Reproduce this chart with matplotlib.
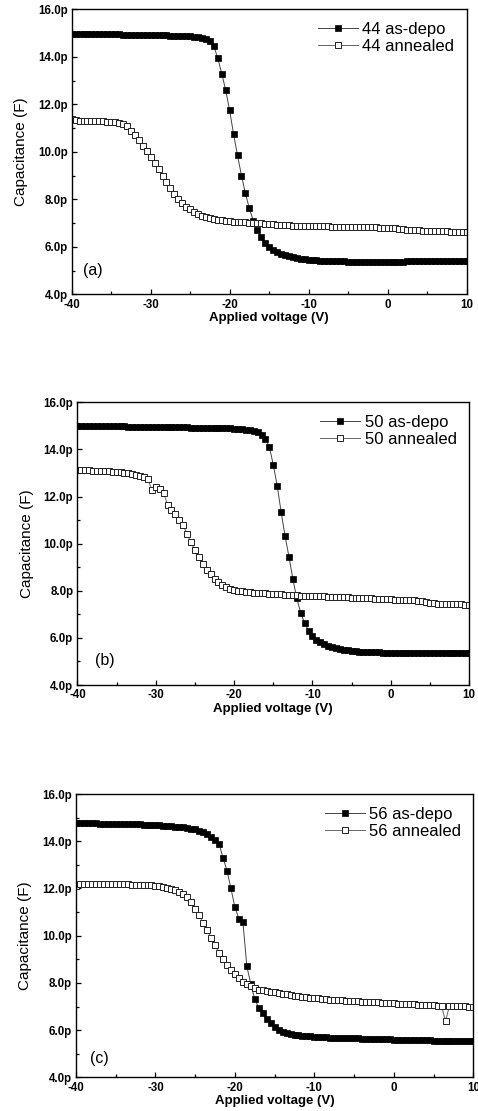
import numpy as np
from matplotlib import pyplot
from matplotlib.ticker import MultipleLocator, FuncFormatter

pyplot.rcParams["font.family"] = ["Liberation Sans", "DejaVu Sans"]

# gate voltage sweep, 0.5 V steps
voltage = np.arange(-40, 10.5, 0.5)

# capacitance in pF, one value per voltage step
cap_44_depo = [
    14.97, 14.97, 14.97, 14.97, 14.96, 14.96, 14.96, 14.96, 14.96, 14.95,
    14.95, 14.95, 14.95, 14.94, 14.94, 14.94, 14.94, 14.93, 14.93, 14.93,
    14.92, 14.92, 14.92, 14.91, 14.91, 14.90, 14.90, 14.89, 14.89, 14.88,
    14.87, 14.86, 14.84, 14.81, 14.76, 14.66, 14.45, 13.95, 13.30, 12.60,
    11.75, 10.75, 9.85, 9.00, 8.25, 7.62, 7.10, 6.70, 6.40, 6.17,
    5.98, 5.87, 5.79, 5.72, 5.66, 5.61, 5.57, 5.54, 5.51, 5.48,
    5.46, 5.44, 5.43, 5.42, 5.41, 5.40, 5.40, 5.39, 5.39, 5.39,
    5.38, 5.38, 5.38, 5.38, 5.38, 5.38, 5.38, 5.38, 5.38, 5.38,
    5.38, 5.38, 5.38, 5.38, 5.38, 5.39, 5.39, 5.39, 5.39, 5.39,
    5.39, 5.39, 5.39, 5.39, 5.39, 5.40, 5.40, 5.40, 5.40, 5.40, 5.40,
]
cap_44_ann = [
    11.40, 11.33, 11.32, 11.32, 11.31, 11.31, 11.30, 11.30, 11.29, 11.28,
    11.27, 11.25, 11.22, 11.17, 11.08, 10.90, 10.72, 10.50, 10.27, 10.03,
    9.78, 9.52, 9.27, 9.00, 8.73, 8.47, 8.22, 8.03, 7.85, 7.70,
    7.58, 7.46, 7.37, 7.30, 7.25, 7.21, 7.18, 7.15, 7.12, 7.10,
    7.08, 7.07, 7.05, 7.04, 7.03, 7.02, 7.01, 7.00, 6.99, 6.98,
    6.96, 6.95, 6.94, 6.93, 6.92, 6.91, 6.90, 6.90, 6.89, 6.88,
    6.88, 6.87, 6.87, 6.86, 6.86, 6.86, 6.85, 6.85, 6.85, 6.84,
    6.84, 6.84, 6.83, 6.83, 6.83, 6.82, 6.82, 6.82, 6.81, 6.81,
    6.80, 6.79, 6.78, 6.76, 6.75, 6.73, 6.72, 6.71, 6.70, 6.69,
    6.68, 6.67, 6.66, 6.66, 6.65, 6.65, 6.64, 6.64, 6.63, 6.63, 6.62,
]
cap_50_depo = [
    14.99, 14.99, 14.99, 14.99, 14.99, 14.99, 14.99, 14.98, 14.98, 14.98,
    14.98, 14.98, 14.98, 14.97, 14.97, 14.97, 14.97, 14.97, 14.96, 14.96,
    14.96, 14.96, 14.95, 14.95, 14.95, 14.95, 14.94, 14.94, 14.94, 14.93,
    14.93, 14.93, 14.92, 14.92, 14.92, 14.91, 14.91, 14.90, 14.90, 14.89,
    14.88, 14.87, 14.86, 14.84, 14.82, 14.78, 14.72, 14.62, 14.45, 14.10,
    13.35, 12.45, 11.35, 10.32, 9.45, 8.50, 7.68, 7.06, 6.63, 6.31,
    6.07, 5.93, 5.83, 5.74, 5.67, 5.61, 5.56, 5.52, 5.49, 5.47,
    5.45, 5.43, 5.42, 5.41, 5.40, 5.40, 5.39, 5.39, 5.38, 5.38,
    5.38, 5.38, 5.38, 5.38, 5.38, 5.38, 5.38, 5.38, 5.38, 5.38,
    5.38, 5.38, 5.38, 5.38, 5.38, 5.38, 5.38, 5.38, 5.38, 5.38, 5.38,
]
cap_50_ann = [
    13.12, 13.14, 13.13, 13.12, 13.10, 13.09, 13.08, 13.07, 13.07, 13.06,
    13.05, 13.04, 13.02, 13.00, 12.97, 12.93, 12.88, 12.83, 12.74, 12.26,
    12.40, 12.33, 12.16, 11.65, 11.44, 11.24, 11.02, 10.78, 10.40, 10.05,
    9.72, 9.42, 9.13, 8.90, 8.70, 8.52, 8.38, 8.26, 8.16, 8.08,
    8.03, 8.00, 7.97, 7.95, 7.93, 7.92, 7.91, 7.90, 7.89, 7.88,
    7.87, 7.86, 7.85, 7.84, 7.83, 7.82, 7.81, 7.80, 7.79, 7.79,
    7.78, 7.77, 7.76, 7.76, 7.75, 7.74, 7.73, 7.73, 7.72, 7.72,
    7.71, 7.70, 7.70, 7.69, 7.68, 7.68, 7.67, 7.66, 7.66, 7.65,
    7.64, 7.63, 7.63, 7.62, 7.61, 7.60, 7.59, 7.58, 7.57, 7.52,
    7.49, 7.47, 7.46, 7.45, 7.44, 7.44, 7.43, 7.42, 7.42, 7.41, 7.40,
]
cap_56_depo = [
    14.78, 14.77, 14.77, 14.76, 14.76, 14.76, 14.75, 14.75, 14.75, 14.74,
    14.74, 14.73, 14.73, 14.72, 14.72, 14.71, 14.71, 14.70, 14.70, 14.69,
    14.68, 14.67, 14.66, 14.65, 14.64, 14.62, 14.61, 14.59, 14.57, 14.54,
    14.50, 14.45, 14.38, 14.30, 14.20, 14.07, 13.90, 13.30, 12.75, 12.00,
    11.20, 10.72, 10.60, 8.70, 7.95, 7.30, 6.95, 6.72, 6.48, 6.30,
    6.13, 6.02, 5.94, 5.88, 5.84, 5.81, 5.78, 5.76, 5.74, 5.73,
    5.72, 5.71, 5.70, 5.69, 5.68, 5.68, 5.67, 5.67, 5.66, 5.66,
    5.65, 5.65, 5.64, 5.64, 5.63, 5.63, 5.62, 5.62, 5.61, 5.61,
    5.60, 5.60, 5.59, 5.59, 5.58, 5.58, 5.58, 5.57, 5.57, 5.57,
    5.56, 5.56, 5.56, 5.55, 5.55, 5.55, 5.55, 5.54, 5.54, 5.54, 5.54,
]
cap_56_ann = [
    12.10, 12.19, 12.19, 12.19, 12.19, 12.18, 12.18, 12.18, 12.18, 12.18,
    12.17, 12.17, 12.17, 12.17, 12.16, 12.16, 12.16, 12.15, 12.15, 12.14,
    12.12, 12.10, 12.07, 12.03, 11.98, 11.92, 11.85, 11.75, 11.62, 11.44,
    11.15, 10.86, 10.55, 10.23, 9.92, 9.60, 9.28, 9.00, 8.76, 8.55,
    8.38, 8.20, 8.05, 7.94, 7.85, 7.78, 7.72, 7.68, 7.65, 7.62,
    7.60, 7.57, 7.54, 7.51, 7.49, 7.46, 7.44, 7.42, 7.39, 7.37,
    7.35, 7.34, 7.32, 7.31, 7.29, 7.28, 7.27, 7.26, 7.25, 7.24,
    7.23, 7.22, 7.21, 7.20, 7.19, 7.18, 7.17, 7.16, 7.15, 7.14,
    7.13, 7.12, 7.11, 7.10, 7.10, 7.09, 7.08, 7.07, 7.06, 7.06,
    7.05, 7.04, 7.04, 6.38, 7.03, 7.02, 7.02, 7.01, 7.01, 7.00, 7.00,
]

samples = ["44", "50", "56"]
tags = ["(a)", "(b)", "(c)"]

# axes rectangles in figure fractions
rects = [
    [0.150, 0.735, 0.826, 0.2565],
    [0.162, 0.3834, 0.8195, 0.2545],
    [0.159, 0.0303, 0.8312, 0.255],
]
tag_pos = [(0.029, 0.085), (0.045, 0.088), (0.035, 0.068)]


def plot_panel(ax, depo, ann, sample, tag, tag_xy):
    ax.plot(voltage, depo, "-s", color="#444444", lw=0.7, ms=4.4,
            mfc="black", mec="black", mew=0.5, label=f"{sample} as-depo")
    ax.plot(voltage, ann, "-s", color="#666666", lw=0.7, ms=4.2,
            mfc="white", mec="#222222", mew=0.7, label=f"{sample} annealed")
    ax.set_xlim(-40, 10)
    ax.set_ylim(4, 16)
    ax.xaxis.set_major_locator(MultipleLocator(10))
    ax.xaxis.set_minor_locator(MultipleLocator(5))
    ax.yaxis.set_major_locator(MultipleLocator(2))
    ax.yaxis.set_minor_locator(MultipleLocator(1))
    ax.yaxis.set_major_formatter(FuncFormatter(lambda v, p: f"{v:.1f}p"))
    ax.xaxis.set_major_formatter(FuncFormatter(lambda v, p: f"{v:.0f}"))
    ax.tick_params(which="both", direction="in", width=0.9)
    ax.tick_params(which="major", length=3.5, labelsize=8.3, pad=3)
    ax.tick_params(which="minor", length=2)
    for lab in ax.get_xticklabels() + ax.get_yticklabels():
        lab.set_fontweight("bold")
    for spine in ax.spines.values():
        spine.set_linewidth(1.0)
    ax.set_xlabel("Applied voltage (V)", fontsize=9.5, fontweight="bold",
                  labelpad=1)
    ax.set_ylabel("Capacitance (F)", fontsize=11, labelpad=7)
    ax.text(tag_xy[0], tag_xy[1], tag, transform=ax.transAxes,
            fontsize=11.5, ha="left", va="center")
    ax.legend(loc="upper right", frameon=False, fontsize=12,
              handlelength=2.4, handletextpad=0.25, labelspacing=0.12,
              borderaxespad=0.35, numpoints=1)


fig = pyplot.figure(figsize=(4.78, 11.11), dpi=100)
data = [(cap_44_depo, cap_44_ann), (cap_50_depo, cap_50_ann),
        (cap_56_depo, cap_56_ann)]
for rect, (depo, ann), sample, tag, xy in zip(rects, data, samples, tags, tag_pos):
    ax = fig.add_axes(rect)
    plot_panel(ax, depo, ann, sample, tag, xy)

fig.savefig("out.png", dpi=100)
